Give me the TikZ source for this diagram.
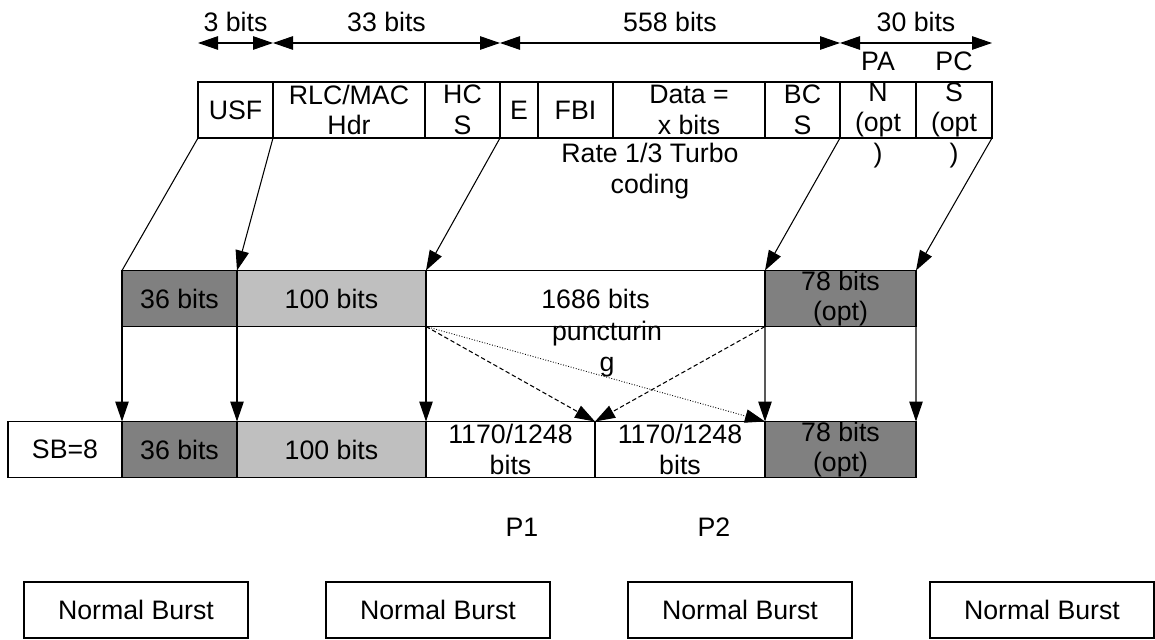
\documentclass[tikz,border=0pt]{standalone}
\usepackage{fontspec}
\setmainfont{Liberation Sans}
\usetikzlibrary{positioning, arrows.meta}

\begin{document}
\begin{tikzpicture}[>={Triangle[length=0.4cm, width=0.27cm]}, line width=0.6pt,
        every node/.style={font=\fontsize{15.2}{17.3}\selectfont},
        cell/.style={draw, line width=0.6pt, inner sep=0pt, outer sep=0pt, minimum height=1.12cm, align=center},
        dark/.style={cell, fill=gray},
        light/.style={cell, fill=lightgray}]
        \useasboundingbox (0,0) rectangle (23.1,12.78);

        % radio block fields
        \node[cell, minimum width=1.5cm, anchor=west] (usf) at (3.96,10.58) {USF};
        \node[cell, minimum width=3.04cm] (rlc) [right=0pt of usf] {RLC/MAC\\Hdr};
        \node[cell, minimum width=1.5cm] (hcs) [right=0pt of rlc] {HC\\S};
        \node[cell, minimum width=0.76cm] (e) [right=0pt of hcs] {E};
        \node[cell, minimum width=1.5cm] (fbi) [right=0pt of e] {FBI};
        \node[cell, minimum width=3.04cm] (data) [right=0pt of fbi] {Data =\\x bits};
        \node[cell, minimum width=1.5cm] (bcs) [right=0pt of data] {BC\\S};
        \node[cell, minimum width=1.52cm] (pan) [right=0pt of bcs] {};
        \node[cell, minimum width=1.52cm] (pcs) [right=0pt of pan] {};
        \node[align=center] (pantxt) at (pan) {PA\\N\\(opt\\)};
        \node[align=center] (pcstxt) at (pcs) {PC\\S\\(opt\\)};
        \node[align=center] (turbo) at (13.0,9.36) {Rate 1/3 Turbo\\coding};

        \coordinate (d0) at ([yshift=0.78cm]usf.north west);
        \coordinate (d1) at ([yshift=0.78cm]usf.north east);
        \coordinate (d2) at ([yshift=0.78cm]hcs.north east);
        \coordinate (d3) at ([yshift=0.78cm]bcs.north east);
        \coordinate (d4) at ([yshift=0.78cm]pcs.north east);
        \draw[<->] (d0) -- (d1) node[midway, yshift=0.42cm] {3 bits};
        \draw[<->] (d1) -- (d2) node[midway, yshift=0.42cm] {33 bits};
        \draw[<->] (d2) -- (d3) node[midway, yshift=0.42cm] {558 bits};
        \draw[<->] (d3) -- (d4) node[midway, yshift=0.42cm] {30 bits};

        % coded block
        \node[dark, minimum width=2.3cm, anchor=west] (m36) at (2.44,6.81) {36 bits};
        \node[light, minimum width=3.78cm] (m100) [right=0pt of m36] {100 bits};
        \node[cell, minimum width=6.78cm] (m1686) [right=0pt of m100] {1686 bits};
        \node[dark, minimum width=3.02cm] (m78) [right=0pt of m1686] {78 bits\\(opt)};
        \node[align=center] (punct) at (12.14,5.8) {puncturin\\g};

        % punctured block
        \node[cell, minimum width=2.28cm, anchor=west] (sb) at (0.16,3.79) {SB=8};
        \node[dark, minimum width=2.3cm] (b36) [right=0pt of sb] {36 bits};
        \node[light, minimum width=3.78cm] (b100) [right=0pt of b36] {100 bits};
        \node[cell, minimum width=3.38cm] (p1) [right=0pt of b100] {1170/1248\\bits};
        \node[cell, minimum width=3.4cm] (p2) [right=0pt of p1] {1170/1248\\bits};
        \node[dark, minimum width=3.02cm] (b78) [right=0pt of p2] {78 bits\\(opt)};
        \node (p1lbl) at (10.44,2.24) {P1};
        \node (p2lbl) at (14.28,2.24) {P2};

        % bursts
        \node[cell, minimum width=4.48cm, anchor=west] (nb1) at (0.48,0.58) {Normal Burst};
        \node[cell, minimum width=4.48cm, anchor=west] (nb2) at (6.52,0.58) {Normal Burst};
        \node[cell, minimum width=4.48cm, anchor=west] (nb3) at (12.56,0.58) {Normal Burst};
        \node[cell, minimum width=4.48cm, anchor=west] (nb4) at (18.6,0.58) {Normal Burst};

        \draw (usf.south west) -- (m36.north west);
        \draw[->] (usf.south east) -- (m100.north west);
        \draw[->] (hcs.south east) -- (m1686.north west);
        \draw[->] (bcs.south east) -- (m78.north west);
        \draw[->] (pcs.south east) -- (m78.north east);

        \draw[->] (m36.south west) -- (b36.north west);
        \draw[->] (m100.south west) -- (b100.north west);
        \draw[->] (m1686.south west) -- (p1.north west);
        \draw[->] (m78.south west) -- (b78.north west);
        \draw[->] (m78.south east) -- (b78.north east);
        \draw[->, dash pattern=on 2.5pt off 1.5pt] (m1686.south west) -- (p1.north east);
        \draw[->, dash pattern=on 2.5pt off 1.5pt] (m78.south west) -- (p2.north west);
        \draw[->, densely dotted, line width=0.5pt] (m1686.south west) -- (b78.north west);
    \end{tikzpicture}
\end{document}
